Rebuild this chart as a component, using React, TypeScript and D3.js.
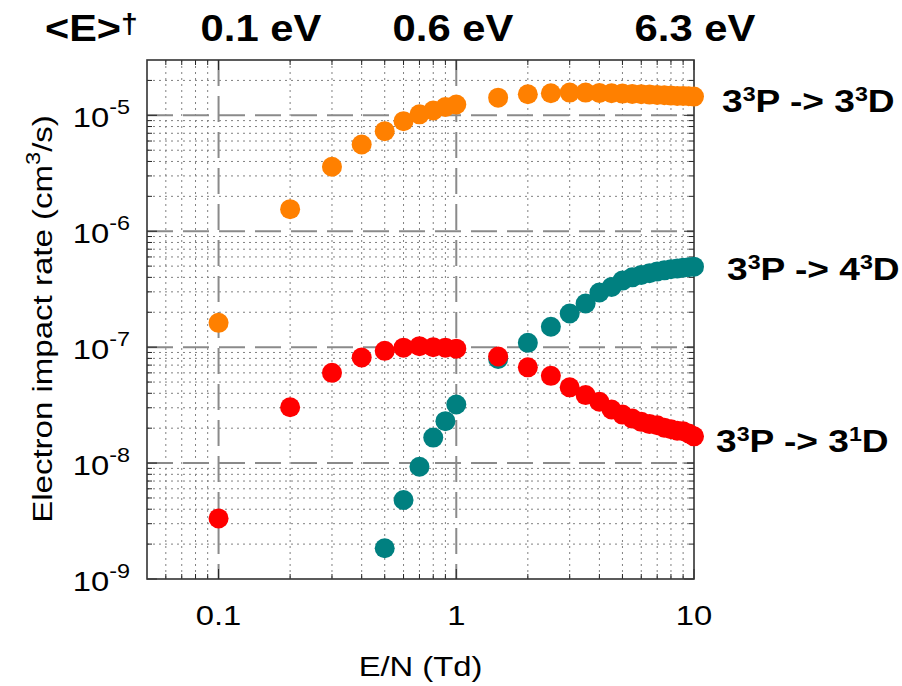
import React from 'react';
import * as d3 from 'd3';

// ---------- data ----------
const EN_ALL = [0.1, 0.2, 0.3, 0.4, 0.5, 0.6, 0.7, 0.8, 0.9, 1.0, 1.5, 2, 2.5, 3, 3.5, 4, 4.5, 5, 5.5, 6, 6.5, 7, 7.5, 8, 8.5, 9, 9.5, 10];
const EN_TEAL = [0.5, 0.6, 0.7, 0.8, 0.9, 1.0, 1.5, 2, 2.5, 3, 3.5, 4, 4.5, 5, 5.5, 6, 6.5, 7, 7.5, 8, 8.5, 9, 9.5, 10];

const RATE_33D = [1.62e-7, 1.55e-6, 3.6e-6, 5.6e-6, 7.3e-6, 8.9e-6, 1.02e-5, 1.1e-5, 1.18e-5, 1.24e-5, 1.42e-5, 1.52e-5, 1.55e-5, 1.57e-5, 1.57e-5, 1.56e-5, 1.55e-5, 1.54e-5, 1.53e-5, 1.52e-5, 1.51e-5, 1.5e-5, 1.49e-5, 1.48e-5, 1.47e-5, 1.47e-5, 1.46e-5, 1.45e-5];
const RATE_43D = [1.84e-9, 4.8e-9, 9.3e-9, 1.66e-8, 2.3e-8, 3.2e-8, 7.9e-8, 1.09e-7, 1.5e-7, 1.95e-7, 2.38e-7, 2.96e-7, 3.3e-7, 3.75e-7, 4.0e-7, 4.2e-7, 4.35e-7, 4.5e-7, 4.6e-7, 4.7e-7, 4.78e-7, 4.85e-7, 4.9e-7, 4.95e-7];
const RATE_31D = [3.33e-9, 3.03e-8, 6.0e-8, 8.15e-8, 9.3e-8, 9.9e-8, 1.02e-7, 1.0e-7, 9.9e-8, 9.7e-8, 8.3e-8, 6.7e-8, 5.66e-8, 4.5e-8, 3.86e-8, 3.38e-8, 2.9e-8, 2.62e-8, 2.42e-8, 2.27e-8, 2.17e-8, 2.12e-8, 2.02e-8, 1.96e-8, 1.9e-8, 1.88e-8, 1.8e-8, 1.7e-8];

const X_TICKS = [0.1, 1, 10];
const X_TICK_LABELS = ['0.1', '1', '10'];
const Y_TICK_EXPONENTS = [-9, -8, -7, -6, -5];
const ENERGY_LABELS = ['0.1 eV', '0.6 eV', '6.3 eV'];
const SERIES_NAMES = [
  { a: '3', b: '3', c: 'P -> ', d: '3', e: '3', f: 'D' },
  { a: '3', b: '3', c: 'P -> ', d: '4', e: '3', f: 'D' },
  { a: '3', b: '3', c: 'P -> ', d: '3', e: '1', f: 'D' },
];

// ---------- layout ----------
const W = 902, H = 686;
const L = 147, R = 694, T = 60, B = 579;
const FONT = '"Liberation Sans", Arial, Helvetica, sans-serif';
const ORANGE = '#ff8000', TEAL = '#008080', RED = '#ff0000';
const SERIES_LABEL_POS = [{ x: 722, y: 112 }, { x: 727, y: 280 }, { x: 716, y: 452 }];
const ENERGY_LABEL_X = [261, 453, 695];

const x = d3.scaleLog().domain([0.05, 10]).range([L, R]);
const y = d3.scaleLog().domain([1e-9, 3e-5]).range([B, T]);

const xMinor: number[] = [];
[0.01, 0.1, 1].forEach(d => { for (let k = 2; k <= 9; k++) { const v = k * d; if (v > 0.05 * 1.0001 && v < 10) xMinor.push(v); } });
const yMinor: number[] = [];
[1e-9, 1e-8, 1e-7, 1e-6, 1e-5].forEach(d => { for (let k = 2; k <= 9; k++) { const v = k * d; if (v < 3e-5 * 0.999) yMinor.push(v); } });
const xMajorInner = [0.1, 1];
const yMajorInner = [1e-8, 1e-7, 1e-6, 1e-5];

function SText(props: { x: number; y: number; sx?: number; rotate?: number; anchor?: string; size: number; weight?: string | number; children: React.ReactNode }) {
  const { x: tx, y: ty, sx = 1.17, rotate = 0, anchor = 'start', size, weight = 'normal', children } = props;
  return (
    <g transform={`translate(${tx},${ty}) rotate(${rotate}) scale(${sx},1)`}>
      <text textAnchor={anchor as any} fontSize={size} fontWeight={weight} fontFamily={FONT} fill="#000">{children}</text>
    </g>
  );
}

export default function App() {
  const series = [
    { xs: EN_ALL, ys: RATE_33D, color: ORANGE },
    { xs: EN_TEAL, ys: RATE_43D, color: TEAL },
    { xs: EN_ALL, ys: RATE_31D, color: RED },
  ];
  return (
    <svg width={W} height={H} style={{ position: 'absolute', left: 0, top: 0, background: '#fff' }}>
      <rect x={0} y={0} width={W} height={H} fill="#fff" />
      {/* minor grid */}
      <g stroke="#808080" strokeWidth={1} strokeDasharray="2 4">
        {xMinor.map((v, i) => <line key={'xm' + i} x1={x(v)} x2={x(v)} y1={T} y2={B} />)}
        {yMinor.map((v, i) => <line key={'ym' + i} x1={L} x2={R} y1={y(v)} y2={y(v)} />)}
      </g>
      {/* major grid */}
      <g stroke="#8a8a8a" strokeWidth={2} strokeDasharray="26 10">
        {xMajorInner.map((v, i) => <line key={'xM' + i} x1={x(v)} x2={x(v)} y1={T} y2={B} />)}
        {yMajorInner.map((v, i) => <line key={'yM' + i} x1={L} x2={R} y1={y(v)} y2={y(v)} />)}
      </g>
      {/* ticks */}
      <g stroke="#222" strokeWidth={1}>
        {xMinor.map((v, i) => (
          <g key={'xt' + i}>
            <line x1={x(v)} x2={x(v)} y1={B} y2={B - 5} />
            <line x1={x(v)} x2={x(v)} y1={T} y2={T + 5} />
          </g>
        ))}
        {X_TICKS.map((v, i) => (
          <g key={'xT' + i}>
            <line x1={x(v)} x2={x(v)} y1={B} y2={B - 10} />
            <line x1={x(v)} x2={x(v)} y1={T} y2={T + 10} />
          </g>
        ))}
        {yMinor.map((v, i) => (
          <g key={'yt' + i}>
            <line x1={L} x2={L + 5} y1={y(v)} y2={y(v)} />
            <line x1={R} x2={R - 5} y1={y(v)} y2={y(v)} />
          </g>
        ))}
        {Y_TICK_EXPONENTS.map((e, i) => (
          <g key={'yT' + i}>
            <line x1={L} x2={L + 10} y1={y(Math.pow(10, e))} y2={y(Math.pow(10, e))} />
            <line x1={R} x2={R - 10} y1={y(Math.pow(10, e))} y2={y(Math.pow(10, e))} />
          </g>
        ))}
      </g>
      {/* frame */}
      <rect x={L} y={T} width={R - L} height={B - T} fill="none" stroke="#333" strokeWidth={1.6} />
      {/* points */}
      {series.map((s, si) => (
        <g key={'s' + si} fill={s.color}>
          {s.xs.map((xv, i) => <circle key={i} cx={x(xv)} cy={y(s.ys[i])} r={10} />)}
        </g>
      ))}
      {/* x tick labels */}
      {X_TICKS.map((v, i) => (
        <SText key={'xl' + i} x={x(v)} y={625} anchor="middle" size={28}>{X_TICK_LABELS[i]}</SText>
      ))}
      {/* y tick labels */}
      {Y_TICK_EXPONENTS.map((e, i) => (
        <SText key={'yl' + i} x={130} y={y(Math.pow(10, e)) + 11.5} anchor="end" size={28}>
          <tspan>10</tspan><tspan dy={-13} fontSize={20}>{String(e)}</tspan>
        </SText>
      ))}
      {/* axis labels */}
      <SText x={(L + R) / 2} y={676} anchor="middle" size={28}>E/N (Td)</SText>
      <SText x={52} y={319} rotate={-90} anchor="middle" size={28} sx={1.18}>
        <tspan>Electron impact rate (cm</tspan><tspan dy={-12} fontSize={20}>3</tspan><tspan dy={12}>/s)</tspan>
      </SText>
      {/* top energy labels */}
      <SText x={45} y={41} size={37} weight="bold" sx={1.12}>
        <tspan>&lt;E&gt;</tspan><tspan dy={-8} fontSize={27}>†</tspan>
      </SText>
      {ENERGY_LABELS.map((t, i) => (
        <SText key={'el' + i} x={ENERGY_LABEL_X[i]} y={41} anchor="middle" size={37} weight="bold" sx={1.13}>{t}</SText>
      ))}
      {/* series labels */}
      {SERIES_NAMES.map((n, i) => (
        <SText key={'sl' + i} x={SERIES_LABEL_POS[i].x} y={SERIES_LABEL_POS[i].y} size={32} weight="bold" sx={1.16}>
          <tspan>{n.a}</tspan><tspan dy={-11} fontSize={20}>{n.b}</tspan><tspan dy={11}>{n.c + n.d}</tspan><tspan dy={-11} fontSize={20}>{n.e}</tspan><tspan dy={11}>{n.f}</tspan>
        </SText>
      ))}
    </svg>
  );
}
